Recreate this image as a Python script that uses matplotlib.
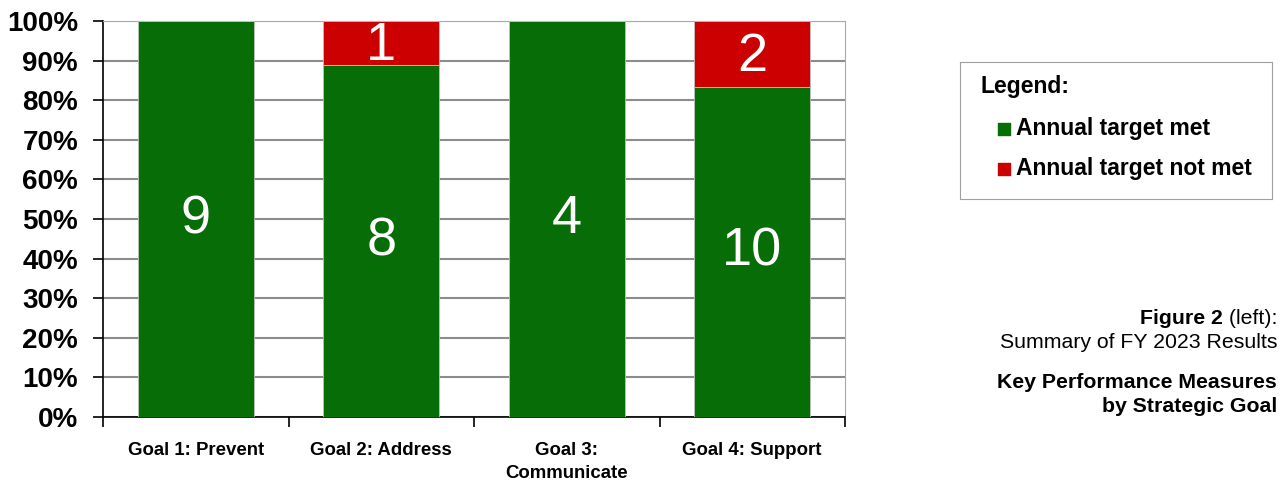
import matplotlib.pyplot as plt
import numpy as np

goals = ['Goal 1: Prevent', 'Goal 2: Address', 'Goal 3:\nCommunicate', 'Goal 4: Support']
met = [9, 8, 4, 10]
not_met = [0, 1, 0, 2]

green = '#076d07'
red = '#cc0000'

met = np.array(met, dtype=float)
not_met = np.array(not_met, dtype=float)
total = met + not_met
met_pct = met / total * 100
not_pct = not_met / total * 100

fig = plt.figure(figsize=(12.81, 4.82), dpi=100)
ax = fig.add_axes([103 / 1281, 1 - 417 / 482, 742 / 1281, 396 / 482])

x = np.arange(len(goals))
w = 0.625
ax.bar(x, met_pct, w, color=green, edgecolor='#b8c4b8', linewidth=0.6, zorder=3)
ax.bar(x, not_pct, w, bottom=met_pct, color=red, edgecolor='#c8c0c0', linewidth=0.6, zorder=3)

for i in range(len(goals)):
    ax.text(x[i], met_pct[i] / 2, '%d' % met[i], ha='center', va='center',
            color='white', fontsize=39, family='Liberation Sans', zorder=4)
    if not_met[i] > 0:
        ax.text(x[i], met_pct[i] + not_pct[i] / 2 - 0.8, '%d' % not_met[i], ha='center', va='center',
                color='white', fontsize=39, family='Liberation Sans', zorder=4)

ax.set_xlim(-0.5, len(goals) - 0.5)
ax.set_ylim(0, 100)
ax.set_yticks(np.arange(0, 101, 10))
ax.set_yticklabels(['%d%%' % v for v in range(0, 101, 10)],
                   fontsize=20, fontweight='bold', family='Liberation Sans')
ax.yaxis.grid(True, color='#8c8c8c', linewidth=1.5, zorder=0)
ax.tick_params(axis='y', length=7, width=1.2, pad=11)

ax.set_xticks(x)
ax.set_xticklabels(goals, fontsize=13.4, fontweight='bold', family='Liberation Sans',
                   linespacing=1.5)
ax.set_xticks(np.arange(-0.5, len(goals), 1), minor=True)
ax.tick_params(axis='x', which='major', length=0, pad=18)
ax.tick_params(axis='x', which='minor', length=7, width=1.2)

ax.spines['left'].set_color('black')
ax.spines['left'].set_linewidth(1.2)
ax.spines['bottom'].set_color('black')
ax.spines['bottom'].set_linewidth(1.2)
ax.spines['top'].set_color('#a0aab8')
ax.spines['right'].set_color('#a0aab8')

# legend box
lax = fig.add_axes([960 / 1281, 1 - 199 / 482, 312 / 1281, 137 / 482])
lax.set_xticks([])
lax.set_yticks([])
for s in lax.spines.values():
    s.set_color('#a0a0a0')
lax.set_xlim(0, 312)
lax.set_ylim(137, 0)
lax.text(20, 25, 'Legend:', fontsize=16.5, fontweight='bold', family='Liberation Sans', va='center')
lax.scatter([44], [67], marker='s', s=75, color=green)
lax.text(56, 66, 'Annual target met', fontsize=16.5, fontweight='bold', family='Liberation Sans', va='center')
lax.scatter([44], [107], marker='s', s=75, color=red)
lax.text(56, 106, 'Annual target not met', fontsize=16.5, fontweight='bold', family='Liberation Sans', va='center')

# caption
fx = 1277 / 1281
t_left = fig.text(fx, 1 - 318 / 482, ' (left):', fontsize=15.3, family='Liberation Sans',
                  ha='right', va='center')
fig.canvas.draw()
bb = t_left.get_window_extent()
fig.text(bb.x0 / fig.bbox.width, 1 - 318 / 482, 'Figure 2', fontsize=15.3, fontweight='bold',
         family='Liberation Sans', ha='right', va='center')
fig.text(fx, 1 - 342 / 482, 'Summary of FY 2023 Results', fontsize=15.3, family='Liberation Sans',
         ha='right', va='center')
fig.text(fx, 1 - 383 / 482, 'Key Performance Measures', fontsize=15.3, fontweight='bold',
         family='Liberation Sans', ha='right', va='center')
fig.text(fx, 1 - 406 / 482, 'by Strategic Goal', fontsize=15.3, fontweight='bold',
         family='Liberation Sans', ha='right', va='center')

fig.savefig('out.png', dpi=100)
